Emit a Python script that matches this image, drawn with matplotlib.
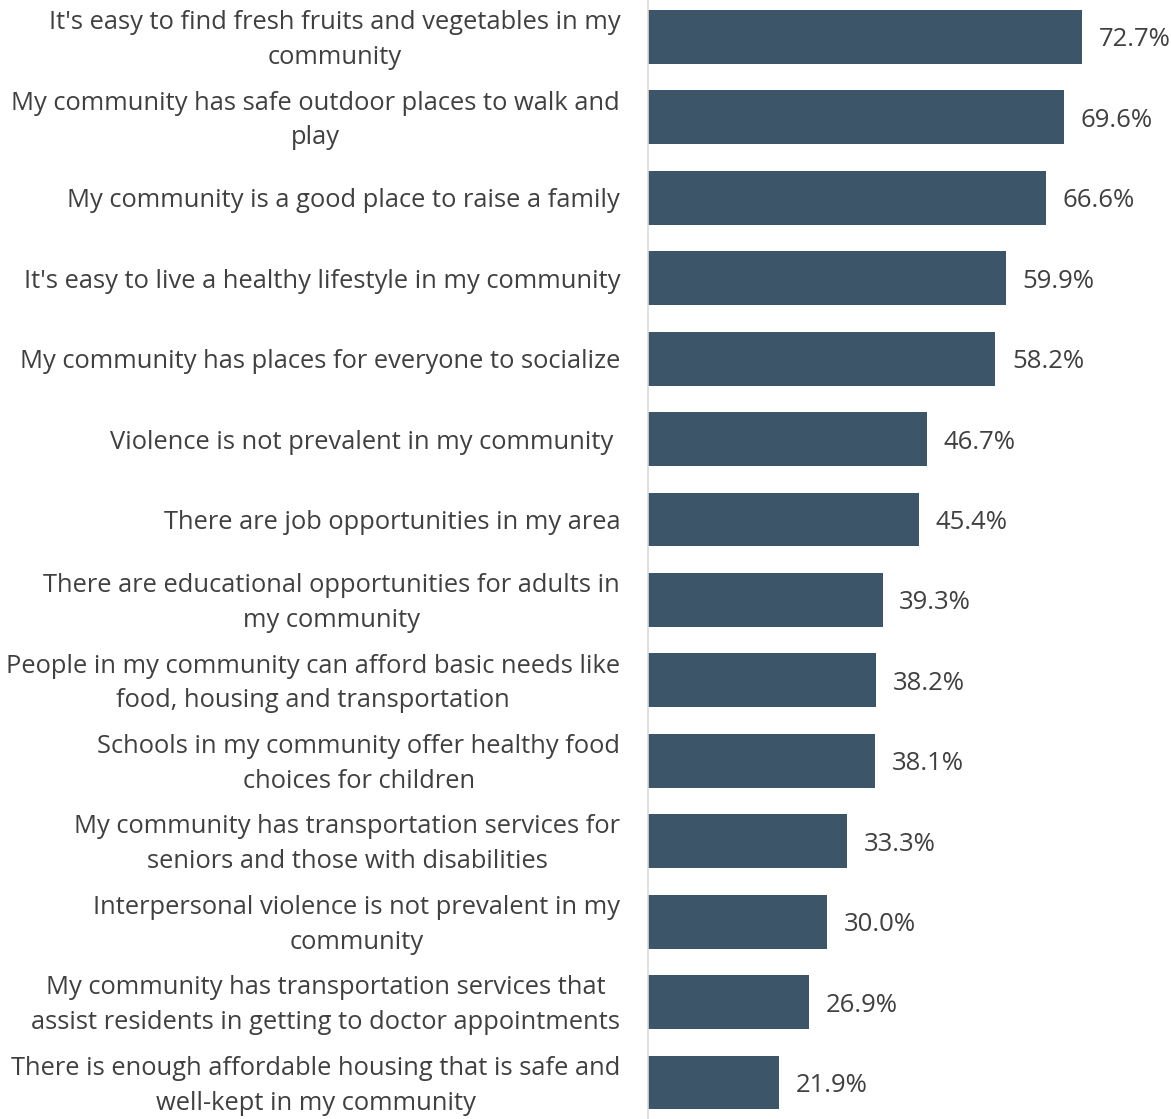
import matplotlib.pyplot as plt
from matplotlib.transforms import ScaledTranslation

# Survey statements, top to bottom, and the share agreeing (%)
statements = [
    "It's easy to find fresh fruits and vegetables in my\ncommunity",
    "My community has safe outdoor places to walk and\nplay",
    "My community is a good place to raise a family",
    "It's easy to live a healthy lifestyle in my community",
    "My community has places for everyone to socialize",
    "Violence is not prevalent in my community ",
    "There are job opportunities in my area",
    "There are educational opportunities for adults in\nmy community",
    "People in my community can afford basic needs like\nfood, housing and transportation",
    "Schools in my community offer healthy food\nchoices for children",
    "My community has transportation services for\nseniors and those with disabilities",
    "Interpersonal violence is not prevalent in my\ncommunity",
    "My community has transportation services that\nassist residents in getting to doctor appointments",
    "There is enough affordable housing that is safe and\nwell-kept in my community",
]
agree_pct = [72.7, 69.6, 66.6, 59.9, 58.2, 46.7, 45.4, 39.3, 38.2, 38.1, 33.3, 30.0, 26.9, 21.9]

bar_color = "#3D5568"
text_color = "#404040"

plt.rcParams['font.family'] = ['Open Sans', 'DejaVu Sans']

fig = plt.figure(figsize=(11.71, 11.19), dpi=100)
ax = fig.add_axes([648 / 1171, 0.0, 1 - 648 / 1171, 1.0])

y = list(range(len(statements)))
ax.barh(y, agree_pct, height=0.67, color=bar_color)

for yi, v in zip(y, agree_pct):
    ax.annotate(f"{v:.1f}%", xy=(v, yi), xytext=(12, 0), textcoords="offset points",
                ha="left", va="center_baseline", fontsize=18.5, color=text_color)

ax.set_yticks(y)
ax.set_yticklabels(statements, fontsize=18.4, color=text_color, multialignment="center",
                   linespacing=1.52)
ax.tick_params(axis="y", length=0, pad=20)

# two-line labels sit a little low, nudge them up
nudge = ScaledTranslation(0, 3.5 / 72, fig.dpi_scale_trans)
for lbl in ax.get_yticklabels():
    if "\n" in lbl.get_text():
        lbl.set_transform(lbl.get_transform() + nudge)

ax.set_ylim(13.454, -0.46)
ax.set_xlim(0, (1171 - 648) / 5.97)
ax.set_xticks([])

for side in ("top", "right", "bottom"):
    ax.spines[side].set_visible(False)
ax.spines["left"].set_color("#D9D9D9")
ax.spines["left"].set_linewidth(1.2)

fig.savefig("out.png", dpi=100)
